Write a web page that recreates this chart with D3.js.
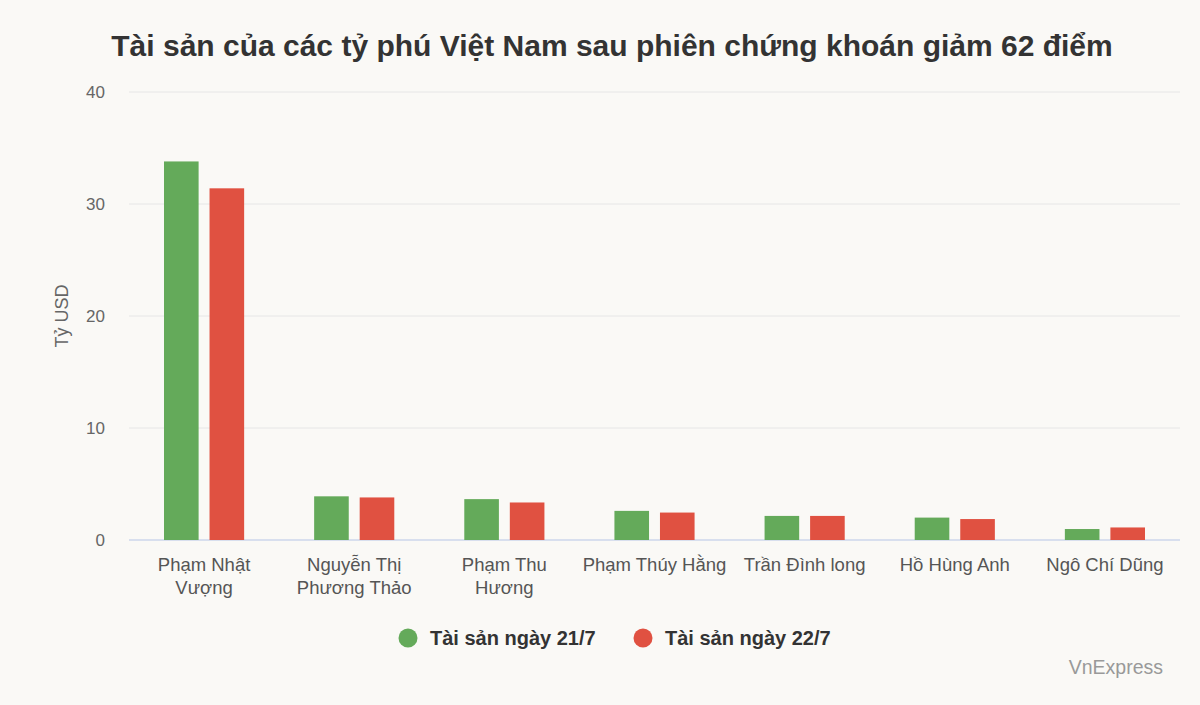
<!DOCTYPE html>
<html>
<head>
<meta charset="utf-8">
<script src="https://cdn.jsdelivr.net/npm/d3@7"></script>
<style>
  body { margin: 0; background: #faf9f6; }
  svg { display: block; font-family: "Liberation Sans", Arial, Helvetica, sans-serif; }
</style>
</head>
<body>
<div id="chart"></div>
<script>
// data
var categories = [
    ["Phạm Nhật", "Vượng"],
    ["Nguyễn Thị", "Phương Thảo"],
    ["Phạm Thu", "Hương"],
    ["Phạm Thúy Hằng"],
    ["Trần Đình long"],
    ["Hồ Hùng Anh"],
    ["Ngô Chí Dũng"]
];
var assets217 = [33.8, 3.9, 3.65, 2.6, 2.15, 2.0, 0.98];
var assets227 = [31.4, 3.8, 3.35, 2.45, 2.15, 1.87, 1.12];
var seriesNames = ["Tài sản ngày 21/7", "Tài sản ngày 22/7"];
var seriesColors = ["#64aa5a", "#e05141"];
var yTicks = [0, 10, 20, 30, 40];

var W = 1200, H = 705;
var margin = { top: 92, right: 20, bottom: 165, left: 129 },
    width = W - margin.left - margin.right,
    height = H - margin.top - margin.bottom;

var svg = d3.select("#chart").append("svg")
    .attr("width", W)
    .attr("height", H);

svg.append("rect").attr("width", W).attr("height", H).attr("fill", "#faf9f6");

var g = svg.append("g")
    .attr("transform", "translate(" + margin.left + "," + margin.top + ")");

// scales
var x = d3.scaleBand().domain(d3.range(categories.length)).range([0, width]);
var x1 = d3.scaleBand().domain([0, 1]).range([35, x.bandwidth() - 35]).paddingInner(0.24);
var y = d3.scaleLinear().domain([0, 40]).range([height, 0]);

// gridlines
g.append("g")
    .selectAll("line")
    .data(yTicks)
    .join("line")
    .attr("x1", 0).attr("x2", width)
    .attr("y1", function (d) { return y(d); })
    .attr("y2", function (d) { return y(d); })
    .attr("stroke", function (d) { return d === 0 ? "#ccd6eb" : "#e6e6e6"; })
    .attr("stroke-width", function (d) { return d === 0 ? 1.5 : 1; });

// y axis labels
var yAxis = g.append("g").call(d3.axisLeft(y).tickValues(yTicks).tickSize(0).tickPadding(24));
yAxis.select(".domain").remove();
yAxis.selectAll("text")
    .attr("fill", "#666")
    .style("font-size", "17px")
    .style("font-family", "Liberation Sans, Arial, sans-serif");

svg.append("text")
    .attr("transform", "translate(68," + (margin.top + height / 2) + ") rotate(-90)")
    .attr("text-anchor", "middle")
    .attr("fill", "#666")
    .style("font-size", "18px")
    .text("Tỷ USD");

// bars
var series = [assets217, assets227];
series.forEach(function (vals, si) {
    g.append("g")
        .selectAll("rect")
        .data(vals)
        .join("rect")
        .attr("x", function (d, i) { return x(i) + x1(si); })
        .attr("width", x1.bandwidth())
        .attr("y", function (d) { return y(d); })
        .attr("height", function (d) { return y(0) - y(d); })
        .attr("fill", seriesColors[si]);
});

// x labels
var xl = g.append("g")
    .selectAll("text")
    .data(categories)
    .join("text")
    .attr("x", function (d, i) { return x(i) + x.bandwidth() / 2; })
    .attr("y", height + 31)
    .attr("text-anchor", "middle")
    .attr("fill", "#555")
    .style("font-size", "18.5px");
xl.each(function (d) {
    var t = d3.select(this);
    d.forEach(function (line, k) {
        t.append("tspan")
            .attr("x", t.attr("x"))
            .attr("dy", k === 0 ? 0 : 23)
            .text(line);
    });
});

// title
svg.append("text")
    .attr("x", 612)
    .attr("y", 56)
    .attr("text-anchor", "middle")
    .attr("fill", "#333")
    .style("font-size", "30px")
    .style("font-weight", "bold")
    .text("Tài sản của các tỷ phú Việt Nam sau phiên chứng khoán giảm 62 điểm");

// legend
var legendX = [408, 643];
seriesNames.forEach(function (name, i) {
    svg.append("circle")
        .attr("cx", legendX[i])
        .attr("cy", 638)
        .attr("r", 9.5)
        .attr("fill", seriesColors[i]);
    svg.append("text")
        .attr("x", legendX[i] + 22)
        .attr("y", 645)
        .attr("fill", "#333")
        .style("font-size", "20px")
        .style("font-weight", "bold")
        .text(name);
});

// credit
svg.append("text")
    .attr("x", 1163)
    .attr("y", 674)
    .attr("text-anchor", "end")
    .attr("fill", "#999")
    .style("font-size", "19.5px")
    .text("VnExpress");
</script>
</body>
</html>
